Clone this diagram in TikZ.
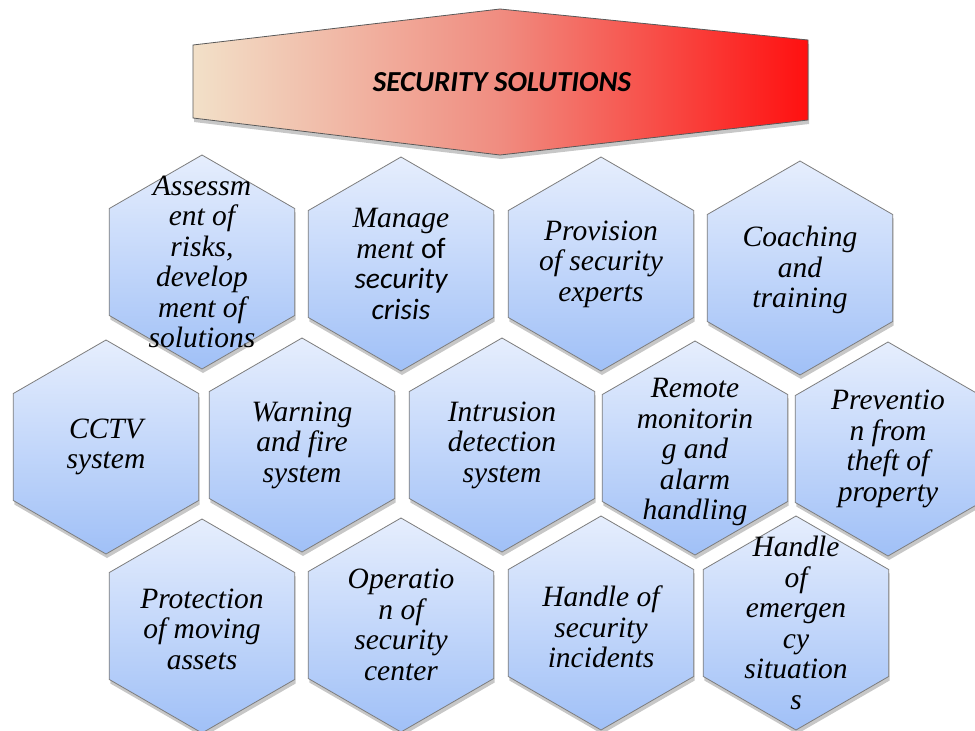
\documentclass[tikz,border=0pt]{standalone}
\usepackage{fontspec}
\setmainfont{Liberation Serif}
\newfontfamily\calibri{Carlito}
\usetikzlibrary{shapes.geometric,shadows}
\definecolor{hextop}{RGB}{230,238,253}
\definecolor{hexbot}{RGB}{160,192,247}
\definecolor{hexline}{RGB}{125,125,125}
\definecolor{banl}{RGB}{242,224,200}
\definecolor{banm}{RGB}{240,140,128}
\definecolor{banr}{RGB}{255,16,16}
\begin{document}
\begin{tikzpicture}[x=1pt,y=-1pt,
  hexa/.style={regular polygon, regular polygon sides=6, shape border rotate=90,
    minimum size=214pt, inner sep=0pt, outer sep=0pt,
    draw=hexline, line width=0.8pt, top color=hextop, bottom color=hexbot,
    drop shadow={shadow xshift=1pt, shadow yshift=-4pt, fill=black, opacity=0.22}},
  hextext/.style={align=center, inner sep=0pt, font=\fontsize{29.5}{30.5}\selectfont\itshape},
  banner/.style={draw=black!65, line width=0.8pt, left color=banl, right color=banr, middle color=banm,
    drop shadow={shadow xshift=1pt, shadow yshift=-4pt, fill=black, opacity=0.22}}]
\useasboundingbox (0,0) rectangle (975,731);
\fill[white] (0,0) rectangle (975,731);
% banner
\path[banner] (193,45) -- (500,9) -- (808,40) -- (808,120) -- (500,155) -- (193,118) -- cycle;
\node[font=\calibri\bfseries\itshape\fontsize{29}{32}\selectfont] (title) at (502,82) {SECURITY SOLUTIONS};
% row 1
\node[hexa] (h1) at (202,262) {};
\node[hexa] (h2) at (401,264) {};
\node[hexa] (h3) at (601,264) {};
\node[hexa] (h4) at (800,268) {};
% row 2
\node[hexa] (h5) at (106,447) {};
\node[hexa] (h6) at (302,445) {};
\node[hexa] (h7) at (502,445) {};
\node[hexa] (h8) at (695,448) {};
\node[hexa] (h9) at (888,449) {};
% row 3
\node[hexa] (h10) at (202,626) {};
\node[hexa] (h11) at (401,625) {};
\node[hexa] (h12) at (601,623) {};
\node[hexa] (h13) at (796,623) {};
% texts
\node[hextext] (t1) at (h1.center) {Assessm\\ent of\\risks,\\develop\\ment of\\solutions};
\node[hextext] (t2) at (h2.center) {Manage\\ment {\calibri\upshape of}\\{\calibri security}\\{\calibri crisis}};
\node[hextext] (t3) at (h3.center) {Provision\\of security\\experts};
\node[hextext] (t4) at ([yshift=-2pt]h4.center) {Coaching\\and\\training};
\node[hextext] (t5) at (h5.center) {CCTV\\system};
\node[hextext] (t6) at (h6.center) {Warning\\and fire\\system};
\node[hextext] (t7) at (h7.center) {Intrusion\\detection\\system};
\node[hextext] (t8) at ([yshift=-4pt]h8.center) {Remote\\monitorin\\g and\\alarm\\handling};
\node[hextext] (t9) at (h9.center) {Preventio\\n from\\theft of\\property};
\node[hextext] (t10) at ([yshift=-3pt]h10.center) {Protection\\of moving\\assets};
\node[hextext] (t11) at (h11.center) {Operatio\\n of\\security\\center};
\node[hextext] (t12) at ([yshift=-4pt]h12.center) {Handle of\\security\\incidents};
\node[hextext] (t13) at (h13.center) {Handle\\of\\emergen\\cy\\situation\\s};
\end{tikzpicture}
\end{document}
